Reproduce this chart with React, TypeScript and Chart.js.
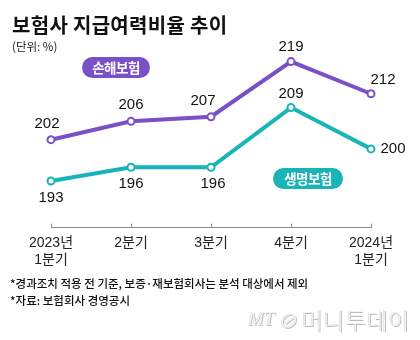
import React, { useEffect, useRef } from "react";
import { Chart, registerables } from "chart.js";

Chart.register(...registerables);

const categories: (string | string[])[] = [["2023년", "1분기"], "2분기", "3분기", "4분기", ["2024년", "1분기"]];
const nonLife = [202, 206, 207, 219, 212];
const life = [193, 196, 196, 209, 200];
const nonLifeName = "손해보험";
const lifeName = "생명보험";

// label offsets (dx, dy) relative to each point
const nonLifeLabelOffset = [[-4, -16], [0, -16], [-8, -16], [0, -15], [12, -14]];
const lifeLabelOffset = [[0, 17], [0, 17], [2, 17], [0, -14], [22, 0]];

const PURPLE = "#7a50c8";
const TEAL = "#19b4b7";
const FONT = "'Liberation Sans', 'Noto Sans CJK KR', sans-serif";
const KFONT = "'Noto Sans CJK KR', 'Liberation Sans', sans-serif";

const axisPlugin = {
  id: "axisLine",
  beforeDatasetsDraw(chart: any) {
    const { ctx, chartArea } = chart;
    const x = chart.scales.x;
    const n = categories.length;
    const y = Math.round(chartArea.bottom) + 0.5;
    ctx.save();
    ctx.strokeStyle = "#8a8a8a";
    ctx.lineWidth = 1;
    ctx.beginPath();
    ctx.moveTo(Math.round(x.getPixelForValue(0)), y);
    ctx.lineTo(Math.round(x.getPixelForValue(n - 1)) + 1, y);
    for (let i = 0; i < n; i++) {
      const px = Math.round(x.getPixelForValue(i)) + 0.5;
      ctx.moveTo(px, y);
      ctx.lineTo(px, y - 4);
    }
    ctx.stroke();
    ctx.restore();
  },
};

const labelPlugin = {
  id: "valueLabels",
  afterDatasetsDraw(chart: any) {
    const { ctx } = chart;
    ctx.save();
    ctx.font = `15px ${FONT}`;
    ctx.fillStyle = "#111";
    ctx.textAlign = "center";
    ctx.textBaseline = "middle";
    chart.data.datasets.forEach((ds: any, di: number) => {
      const meta = chart.getDatasetMeta(di);
      const offs = ds.labelOffsets as number[][];
      meta.data.forEach((pt: any, i: number) => {
        const [dx, dy] = offs[i];
        ctx.fillText(String(ds.data[i]), pt.x + dx, pt.y + dy);
      });
    });
    ctx.restore();
  },
};

export default function App() {
  const ref = useRef<HTMLCanvasElement>(null);
  useEffect(() => {
    if (!ref.current) return;
    const chart = new Chart(ref.current, {
      type: "line",
      data: {
        labels: categories as any,
        datasets: [
          {
            label: nonLifeName,
            data: nonLife,
            borderColor: PURPLE,
            borderWidth: 4,
            pointRadius: 3.5,
            pointBackgroundColor: "#fff",
            pointBorderColor: PURPLE,
            pointBorderWidth: 2,
            tension: 0,
            labelOffsets: nonLifeLabelOffset,
          } as any,
          {
            label: lifeName,
            data: life,
            borderColor: TEAL,
            borderWidth: 4,
            pointRadius: 3.5,
            pointBackgroundColor: "#fff",
            pointBorderColor: TEAL,
            pointBorderWidth: 2,
            tension: 0,
            labelOffsets: lifeLabelOffset,
          } as any,
        ],
      },
      options: {
        animation: false,
        responsive: false,
        layout: { padding: { left: 51, right: 49, top: 34, bottom: 63 } },
        plugins: { legend: { display: false }, tooltip: { enabled: false } },
        scales: {
          x: {
            offset: false,
            grid: { display: false, drawTicks: false },
            border: { display: false },
            ticks: {
              padding: 8,
              color: "#222",
              font: { size: 14, family: FONT, lineHeight: 1.2 },
              maxRotation: 0,
              autoSkip: false,
            },
            afterFit: (scale: any) => {
              scale.height = 50;
            },
          },
          y: { display: false, min: 183, max: 225 },
        },
      },
      plugins: [axisPlugin, labelPlugin],
    });
    return () => chart.destroy();
  }, []);

  const pill = (left: number, top: number, w: number, h: number, bg: string, text: string) => (
    <div
      style={{
        position: "absolute",
        left,
        top,
        width: w,
        height: h,
        borderRadius: h / 2,
        background: bg,
        color: "#fff",
        fontFamily: KFONT,
        fontWeight: 700,
        fontSize: 13.5,
        lineHeight: `${h}px`,
        textAlign: "center",
        letterSpacing: -0.5,
      }}
    >
      {text}
    </div>
  );

  return (
    <div style={{ position: "fixed", left: 0, top: 0, width: 420, height: 340, background: "#fff", overflow: "hidden" }}>
      <canvas ref={ref} width={420} height={340} style={{ position: "absolute", left: 0, top: 0 }} />
      <div
        style={{
          position: "absolute",
          left: 12,
          top: 14,
          fontFamily: KFONT,
          fontWeight: 700,
          fontSize: 20,
          lineHeight: "22px",
          color: "#111",
          letterSpacing: 0.3,
          whiteSpace: "nowrap",
        }}
      >
        보험사 지급여력비율 추이
      </div>
      <div
        style={{
          position: "absolute",
          left: 12,
          top: 39,
          fontFamily: KFONT,
          fontSize: 11.5,
          lineHeight: "14px",
          color: "#222",
          whiteSpace: "nowrap",
        }}
      >
        (단위: %)
      </div>
      {pill(82, 57, 68, 21, PURPLE, nonLifeName)}
      {pill(273, 168, 70, 21, TEAL, lifeName)}
      <div
        style={{
          position: "absolute",
          left: 10,
          top: 275,
          fontFamily: KFONT,
          fontSize: 11.5,
          fontWeight: 500,
          lineHeight: "17px",
          color: "#111",
          whiteSpace: "nowrap",
          letterSpacing: 0,
        }}
      >
        <div>*경과조치 적용 전 기준, 보증·재보험회사는 분석 대상에서 제외</div>
        <div>*자료: 보험회사 경영공시</div>
      </div>
      <div
        style={{
          position: "absolute",
          left: 248,
          top: 302,
          whiteSpace: "nowrap",
          color: "#f2f2f2",
          textShadow: "1px 1px 0 #bdbdbd, -0.5px -0.5px 0 #d8d8d8",
          fontFamily: KFONT,
          display: "flex",
          alignItems: "center",
        }}
      >
        <span style={{ fontStyle: "italic", fontFamily: "'Liberation Serif', serif", fontSize: 19, marginRight: 3 }}>MT</span>
        <span style={{ fontSize: 19, marginRight: 5, fontStyle: "italic" }}>⊘</span>
        <span style={{ fontSize: 23, fontWeight: 300, letterSpacing: 0.5 }}>머니투데이</span>
      </div>
    </div>
  );
}
